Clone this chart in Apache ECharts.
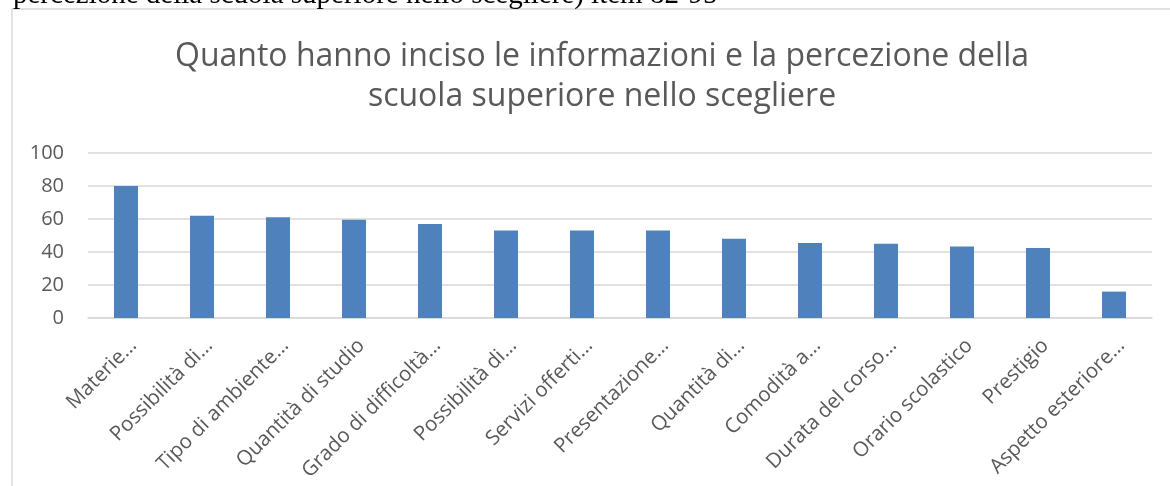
<!DOCTYPE html>
<html>
<head>
<meta charset="utf-8">
<script src="https://cdn.jsdelivr.net/npm/echarts@6/dist/echarts.min.js"></script>
<style>
  html, body { margin: 0; padding: 0; background: #fff; }
  #chart { width: 1170px; height: 486px; }
</style>
</head>
<body>
<div id="chart"></div>
<script>
// voci (categorie) e percentuali
var categories = [
  'Materie…', 'Possibilità di…', 'Tipo di ambiente…', 'Quantità di studio',
  'Grado di difficoltà…', 'Possibilità di…', 'Servizi offerti…', 'Presentazione…',
  'Quantità di…', 'Comodità a…', 'Durata del corso…', 'Orario scolastico',
  'Prestigio', 'Aspetto esteriore…'
];
var values = [80, 62, 61, 59.5, 57, 53, 53, 53, 48, 45.5, 45, 43.3, 42.5, 16];
var yTicks = [0, 20, 40, 60, 80, 100];

var chart = echarts.init(document.getElementById('chart'));

var option = {
  animation: false,
  backgroundColor: '#fff',
  textStyle: { fontFamily: 'Open Sans' },
  title: {
    text: 'Quanto hanno inciso le informazioni e la percezione della\nscuola superiore nello scegliere',
    left: 597,
    top: 32,
    textAlign: 'center',
    textStyle: {
      fontFamily: 'Open Sans',
      fontSize: 32,
      fontWeight: 'normal',
      color: '#595959',
      lineHeight: 40
    }
  },
  graphic: [
    {
      type: 'text',
      left: 13,
      top: -19,
      style: {
        text: 'percezione della scuola superiore nello scegliere) item 82-95',
        font: '29px "Liberation Serif"',
        fill: '#000'
      }
    },
    {
      type: 'rect',
      shape: { x: 12, y: 9, width: 1300, height: 600 },
      style: { fill: 'none', stroke: '#d9d9d9', lineWidth: 1.5 },
      z: -1
    }
  ],
  grid: {
    left: 88,
    right: 18,
    top: 153,
    bottom: 168,
    containLabel: false
  },
  xAxis: {
    type: 'category',
    data: categories,
    axisLine: { show: true, lineStyle: { color: '#d9d9d9', width: 1.5 } },
    axisTick: { show: false },
    axisLabel: {
      rotate: 45,
      interval: 0,
      margin: 17,
      fontSize: 20.5,
      verticalAlign: 'top',
      color: '#595959',
      fontFamily: 'Open Sans'
    }
  },
  yAxis: {
    type: 'value',
    min: yTicks[0],
    max: yTicks[yTicks.length - 1],
    interval: 20,
    axisLine: { show: false },
    axisTick: { show: false },
    axisLabel: {
      fontSize: 20,
      color: '#595959',
      margin: 24,
      fontFamily: 'Open Sans'
    },
    splitLine: { lineStyle: { color: '#d9d9d9', width: 1.5 } }
  },
  series: [{
    type: 'bar',
    data: values,
    barWidth: 24,
    itemStyle: { color: '#4f81bd' }
  }]
};

chart.setOption(option);
</script>
</body>
</html>
